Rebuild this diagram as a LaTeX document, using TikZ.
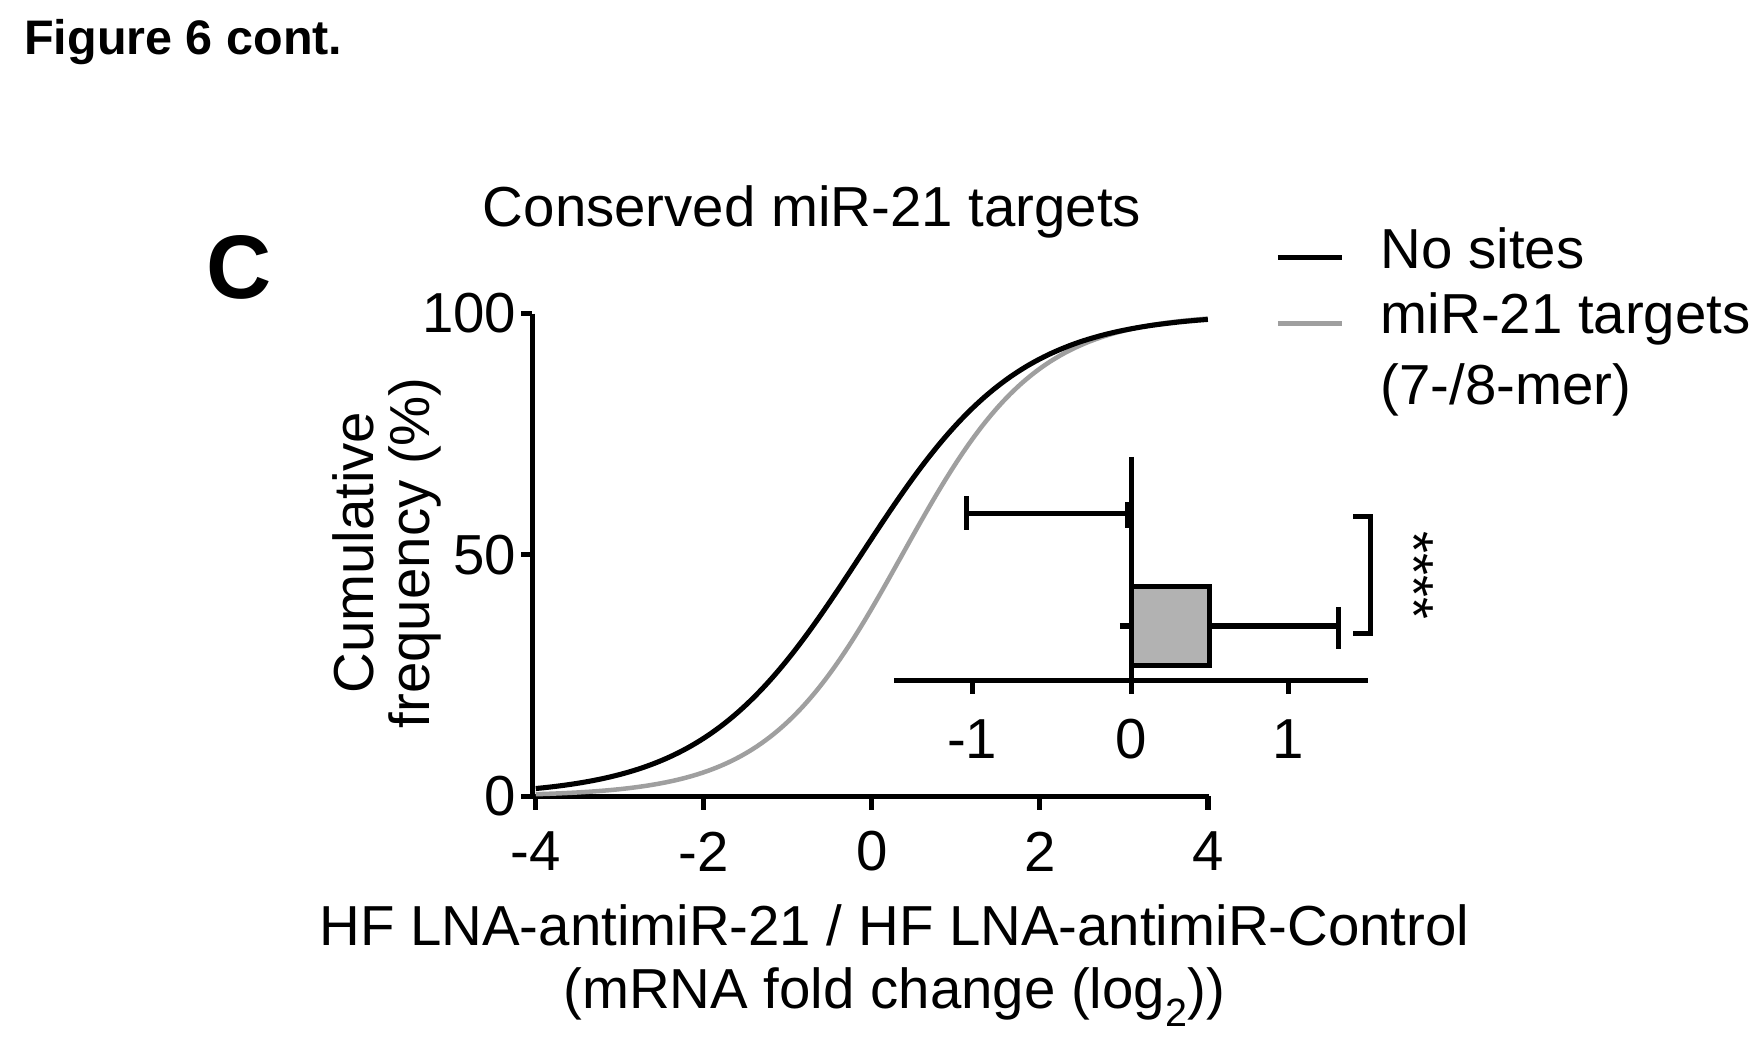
\documentclass[tikz,border=0pt]{standalone}
\usepackage{fontspec}
\setmainfont{Liberation Sans}
\begin{document}
\begin{tikzpicture}[x=1pt,y=1pt,line width=4.5pt,
  lbl/.style={font=\fontsize{50}{56}\selectfont, inner sep=0pt},
  gr/.style={color=gray!75}]
\useasboundingbox (0,0) rectangle (1564,-933);
\node[font=\bfseries\fontsize{43}{48}\selectfont, anchor=west] (fig) at (16,-37) {Figure 6 cont.};
\node[font=\bfseries\fontsize{80}{90}\selectfont] (C) at (212,-237) {C};
\node[lbl] (title) at (720,-188) {Conserved miR-21 targets};
% axes
\draw (472,-278) coordinate (ytop) -- (472,-706) coordinate (orig) -- (1072,-706) coordinate (xend);
\foreach \v/\p in {100/278,50/492,0/706}{
  \draw (472,-\p) -- (462,-\p);
  \node[lbl,anchor=east] at (460,-\p) {\v};}
\foreach \v in {-4,-2,0,2,4}{
  \draw ({773+74.5*\v},-706) -- ({773+74.5*\v},-718);
  \node[lbl] at ({773+74.5*\v},-755) {\v};}
\node[lbl,rotate=90,align=center] (ylab) at (343,-490) {Cumulative\\[-6pt]frequency (\%)};
\node[lbl,align=center] (xlab) at (793,-856) {HF LNA-antimiR-21 / HF LNA-antimiR-Control\\[0pt](mRNA fold change (log\textsubscript{2}))};
% curves
\draw[gr,line width=4pt] plot[domain=-4:4,samples=120,smooth] ({773+74.5*\x},{-706+428/(1+exp(-(\x-0.36)/0.8))});
\draw plot[domain=-4:4,samples=120,smooth] ({773+74.5*\x},{-706+428/(1+exp(-(\x+0.13)/0.94))});
% legend
\draw (1133,-228) -- (1190,-228);
\node[lbl,anchor=west] (l1) at (1222,-220) {No sites};
\draw[gr] (1133,-287) -- (1190,-287);
\node[lbl,anchor=west] (l2) at (1222,-283) {miR-21 targets};
\node[lbl,anchor=west] (l3) at (1222,-346) {(7-/8-mer)};
% inset
\draw (793,-603) -- (1213,-603);
\foreach \v/\p in {-1/862,0/1003,1/1142}{
  \draw (\p,-603) -- (\p,-615);
  \node[lbl] at (\p,-655) {\v};}
\draw (1003,-405) -- (1003,-603);
\draw (993,-455) -- (1003,-455);
\draw (993,-555) -- (1003,-555);
\draw (1000,-455) -- (857,-455);
\draw (857,-440) -- (857,-470);
\draw (1000,-445) -- (1000,-468);
\draw[fill=gray!60] (1003,-520) rectangle (1072,-590);
\draw (1072,-555) -- (1187,-555);
\draw (1187,-538) -- (1187,-575);
\draw (1200,-458) -- (1215,-458) -- (1215,-562) -- (1200,-562);
\node[lbl,rotate=-90] (sig) at (1254,-510) {****};
\end{tikzpicture}
\end{document}
